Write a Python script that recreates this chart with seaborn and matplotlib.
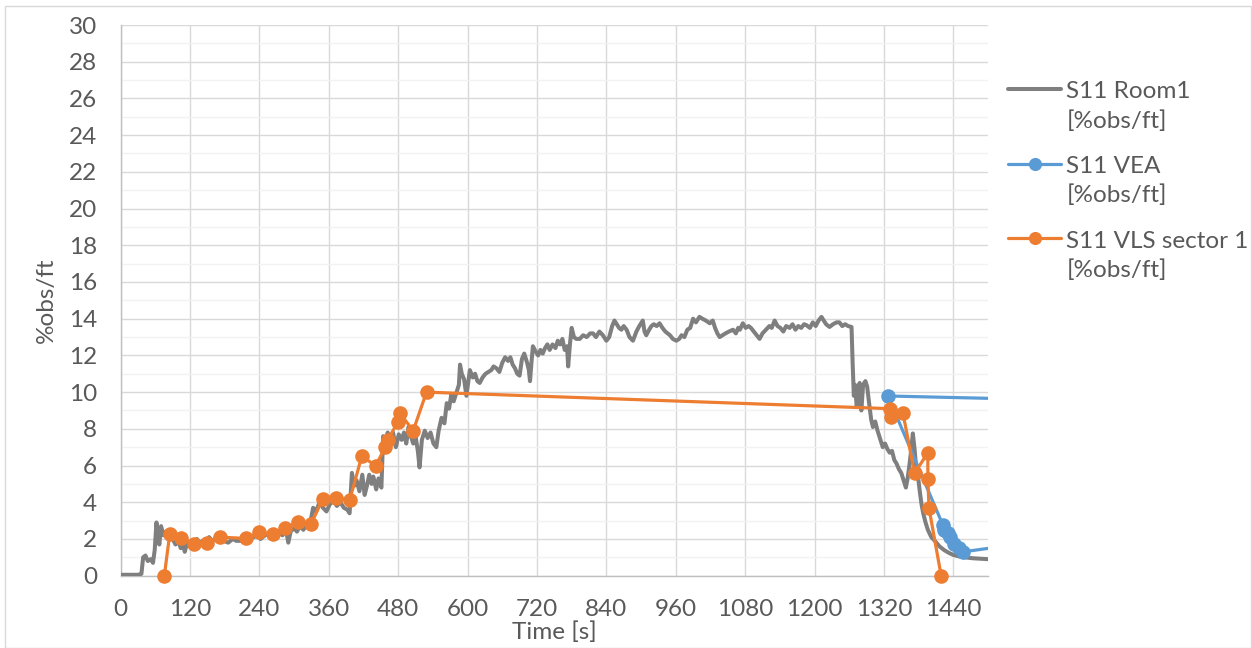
import numpy as np
import pandas as pd
import matplotlib
matplotlib.use("Agg")
import matplotlib.pyplot as plt
import seaborn as sns
from matplotlib.lines import Line2D
from matplotlib.legend_handler import HandlerLine2D
from matplotlib.patches import Rectangle

# ---------------- data ----------------
room_t = [0, 10, 20, 30, 36, 39, 43, 47, 52, 56, 59, 62, 65, 67, 70, 74, 78, 82, 86, 90,
          95, 100, 104, 108, 111, 115, 120, 126, 132, 137, 142, 148, 153, 158, 163, 170, 178, 186, 194, 200,
          208, 216, 222, 230, 236, 242, 250, 258, 264, 272, 280, 286, 290, 294, 300, 305, 310, 316, 322, 328,
          333, 338, 344, 350, 356, 362, 368, 374, 380, 386, 392, 396, 400, 404, 408, 413, 418, 422, 426, 430,
          434, 437, 442, 446, 451, 454, 458, 462, 466, 471, 476, 481, 486, 490, 494, 498, 502, 506, 510, 514,
          517, 521, 526, 531, 536, 541, 546, 550, 555, 560, 564, 568, 572, 576, 581, 585, 587, 590, 594, 598,
          601, 604, 609, 613, 617, 621, 626, 631, 636, 641, 645, 650, 655, 660, 665, 670, 674, 678, 682, 686,
          690, 694, 698, 703, 706, 708, 711, 713, 718, 722, 726, 730, 734, 738, 742, 747, 752, 756, 760, 764,
          768, 772, 774, 777, 780, 784, 788, 794, 800, 806, 812, 817, 822, 828, 834, 840, 845, 850, 854, 858,
          862, 866, 870, 875, 880, 886, 892, 897, 903, 906, 909, 914, 918, 922, 927, 932, 937, 942, 946, 950,
          955, 961, 966, 970, 975, 980, 985, 990, 995, 1001, 1006, 1012, 1019, 1024, 1028, 1032, 1036, 1041, 1046, 1052,
          1059, 1064, 1068, 1071, 1076, 1081, 1086, 1090, 1095, 1100, 1105, 1110, 1116, 1122, 1126, 1131, 1136, 1141, 1146, 1151,
          1157, 1162, 1167, 1172, 1177, 1182, 1186, 1192, 1197, 1202, 1207, 1212, 1216, 1220, 1226, 1232, 1238, 1243, 1248, 1253,
          1258, 1264, 1266, 1268, 1270, 1273, 1276, 1278, 1281, 1284, 1288, 1291, 1294, 1298, 1301, 1305, 1309, 1313, 1318, 1322,
          1326, 1330, 1334, 1338, 1342, 1346, 1350, 1354, 1358, 1361, 1364, 1367, 1370, 1373, 1376, 1379, 1382, 1385, 1388, 1392,
          1396, 1402, 1408, 1416, 1424, 1432, 1440, 1450, 1460, 1474, 1488, 1500]
room_v = [0.05, 0.05, 0.05, 0.05, 0.1, 1.0, 1.1, 0.8, 0.9, 0.7, 1.4, 2.9, 2.0, 1.7, 2.7, 2.2, 2.4, 2.0, 2.3, 2.0,
          1.7, 1.9, 1.5, 1.7, 1.3, 1.8, 1.6, 1.7, 2.0, 1.8, 1.9, 1.7, 2.1, 1.9, 2.0, 1.9, 1.9, 1.8, 2.0, 1.9,
          1.9, 1.8, 2.0, 2.1, 2.2, 2.0, 2.2, 2.3, 2.1, 2.4, 2.2, 2.5, 1.8, 2.4, 2.6, 2.4, 2.7, 2.5, 2.8, 2.9,
          3.7, 3.5, 4.0, 3.7, 3.5, 3.9, 4.1, 3.8, 4.0, 3.7, 3.6, 3.4, 5.6, 4.9, 5.2, 4.6, 5.5, 4.4, 4.9, 5.5,
          5.0, 5.4, 4.7, 5.3, 4.8, 7.6, 7.4, 7.8, 7.2, 7.8, 7.0, 7.7, 7.4, 7.8, 7.2, 8.1, 7.6, 7.2, 7.6, 6.8,
          5.9, 7.4, 7.9, 7.5, 7.8, 7.2, 7.0, 7.9, 8.6, 8.3, 9.4, 9.1, 9.9, 9.5, 10.0, 10.4, 11.5, 11.0, 10.7, 9.8,
          10.5, 11.2, 10.8, 11.0, 10.6, 10.5, 10.8, 11.0, 11.1, 11.2, 11.4, 11.3, 11.1, 11.6, 11.9, 11.7, 11.9, 11.5, 11.3, 11.0,
          10.9, 11.8, 12.1, 11.6, 11.2, 10.6, 11.8, 12.5, 12.2, 12.0, 12.3, 12.1, 12.4, 12.6, 12.3, 12.6, 12.4, 12.8, 12.6, 12.9,
          12.3, 12.5, 11.4, 12.6, 13.5, 13.0, 12.9, 12.9, 13.1, 13.0, 13.2, 13.2, 13.0, 13.3, 13.1, 12.8, 13.0, 13.6, 13.9, 13.7,
          13.5, 13.4, 13.6, 13.4, 13.0, 12.8, 13.3, 13.6, 13.9, 13.3, 13.1, 13.4, 13.6, 13.7, 13.6, 13.75, 13.5, 13.3, 13.2, 13.1,
          12.9, 12.8, 12.9, 13.1, 13.0, 13.4, 13.5, 14.0, 13.8, 14.1, 14.0, 13.9, 13.75, 13.9, 13.5, 13.2, 13.0, 13.1, 13.2, 13.3,
          13.4, 13.2, 13.5, 13.4, 13.75, 13.5, 13.6, 13.5, 13.3, 13.1, 12.9, 13.2, 13.4, 13.6, 13.5, 13.9, 13.6, 13.5, 13.3, 13.6,
          13.5, 13.7, 13.4, 13.6, 13.5, 13.7, 13.65, 13.5, 13.8, 13.6, 13.9, 14.1, 13.9, 13.7, 13.55, 13.7, 13.8, 13.8, 13.6, 13.7,
          13.6, 13.55, 11.5, 9.8, 10.4, 9.2, 10.2, 10.5, 9.0, 10.4, 10.6, 10.3, 9.5, 8.5, 8.1, 8.4, 7.9, 7.5, 7.0, 7.2,
          6.9, 6.7, 6.8, 6.3, 6.1, 5.8, 5.6, 5.2, 4.8, 5.3, 6.0, 6.8, 7.75, 6.9, 5.8, 5.4, 4.6, 3.9, 3.4, 2.9,
          2.5, 2.1, 1.9, 1.6, 1.4, 1.25, 1.13, 1.05, 1.0, 0.95, 0.92, 0.9]

vea_t = [1600, 1327, 1422, 1424, 1430, 1434, 1442, 1450, 1457, 1560]
vea_v = [9.59, 9.79, 2.76, 2.5, 2.3, 2.12, 1.7, 1.5, 1.3, 1.75]

vls_t = [75.6, 85, 105, 127, 149, 172, 216, 240, 263, 284, 307, 329, 350, 373, 396, 417, 441, 458, 462,
         480, 483, 506, 529, 1330, 1333, 1353, 1373, 1396, 1396, 1398, 1419]
vls_v = [0, 2.27, 2.04, 1.72, 1.76, 2.1, 2.03, 2.36, 2.27, 2.58, 2.94, 2.8, 4.2, 4.25, 4.1, 6.5, 6.0, 7.0, 7.4,
         8.4, 8.85, 7.9, 10.0, 9.1, 8.66, 8.85, 5.58, 6.7, 5.25, 3.67, 0]

x_ticks = list(range(0, 1441, 120))
y_ticks = list(range(0, 31, 2))
series_labels = ["S11 Room1\n[%obs/ft]", "S11 VEA\n[%obs/ft]", "S11 VLS sector 1\n[%obs/ft]"]
x_label = "Time [s]"
y_label = "%obs/ft"

# ---------------- style ----------------
GRAY = "#7F7F7F"
BLUE = "#5B9BD5"
ORANGE = "#ED7D31"
TXT = "#595959"
FS = 17.5
MS = 10.5

sns.set_theme(style="white")
plt.rcParams['font.family'] = ['Lato', 'DejaVu Sans']

W, H = 1252, 648
fig = plt.figure(figsize=(W / 100, H / 100), dpi=100)
left, right, top, bottom = 120.6, 988.0, 25.0, 575.7
ax = fig.add_axes([left / W, 1 - bottom / H, (right - left) / W, (bottom - top) / H])

df_room = pd.DataFrame({"t": room_t, "v": room_v})
df_vea = pd.DataFrame({"t": vea_t, "v": vea_v})
df_vls = pd.DataFrame({"t": vls_t, "v": vls_v})

sns.lineplot(data=df_room, x="t", y="v", sort=False, estimator=None, ax=ax,
             color=GRAY, linewidth=2.9, legend=False, zorder=3)
sns.lineplot(data=df_vea, x="t", y="v", sort=False, estimator=None, ax=ax,
             color=BLUE, linewidth=2.3, marker="o", markersize=MS, markeredgewidth=0,
             legend=False, zorder=4)
sns.lineplot(data=df_vls, x="t", y="v", sort=False, estimator=None, ax=ax,
             color=ORANGE, linewidth=2.3, marker="o", markersize=MS, markeredgewidth=0,
             legend=False, zorder=5, clip_on=False)

ax.set_xlim(0, 1500)
ax.set_ylim(0, 30)
ax.set_xticks(x_ticks)
ax.set_yticks(y_ticks)
ax.set_yticks(np.arange(0, 31, 1), minor=True)
ax.grid(which="major", axis="both", color="#D9D9D9", linewidth=1.0, zorder=0)
ax.grid(which="minor", axis="y", color="#F2F2F2", linewidth=1.0, zorder=0)
ax.set_axisbelow(True)
for s in ["top", "right"]:
    ax.spines[s].set_visible(False)
for s in ["left", "bottom"]:
    ax.spines[s].set_color("#BFBFBF")
    ax.spines[s].set_linewidth(1.0)
ax.tick_params(axis="both", which="both", length=0, labelsize=FS, labelcolor=TXT)
ax.tick_params(axis="y", pad=17)
ax.tick_params(axis="x", pad=17)

ax.set_xlabel(x_label, fontsize=FS, color=TXT)
ax.set_ylabel(y_label, fontsize=FS, color=TXT)
ax.xaxis.set_label_coords(0.5, -0.102)
ax.xaxis.label.set_va("center")
ax.yaxis.set_label_coords(-0.085, 0.5)
ax.yaxis.label.set_va("center")


class TopHandler(HandlerLine2D):
    def __init__(self, shift=0.0, **kw):
        super().__init__(**kw)
        self.shift = shift

    def create_artists(self, legend, orig_handle, xdescent, ydescent, width, height, fontsize, trans):
        arts = super().create_artists(legend, orig_handle, xdescent, ydescent, width, height, fontsize, trans)
        for a in arts:
            a.set_ydata(np.asarray(a.get_ydata()) + self.shift * fontsize)
        return arts


handles = [
    Line2D([], [], color=GRAY, linewidth=2.9),
    Line2D([], [], color=BLUE, linewidth=2.3, marker="o", markersize=MS, markeredgewidth=0),
    Line2D([], [], color=ORANGE, linewidth=2.3, marker="o", markersize=MS, markeredgewidth=0),
]
leg = fig.legend(handles, series_labels, loc="upper left",
                 bbox_to_anchor=(1008 / W, 1 - 81 / H), frameon=False,
                 fontsize=FS, handlelength=2.2, handletextpad=0.2,
                 labelspacing=1.0, borderpad=0, borderaxespad=0, markerscale=0.9,
                 handler_map={Line2D: TopHandler(shift=0.72)})
for t in leg.get_texts():
    t.set_color(TXT)
    t.set_linespacing(1.45)

fig.add_artist(Rectangle((5 / W, 0.5 / H), (W - 6) / W, (H - 6) / H, transform=fig.transFigure,
                         fill=False, edgecolor="#D9D9D9", linewidth=1.0))

fig.savefig("out.png", dpi=100)
